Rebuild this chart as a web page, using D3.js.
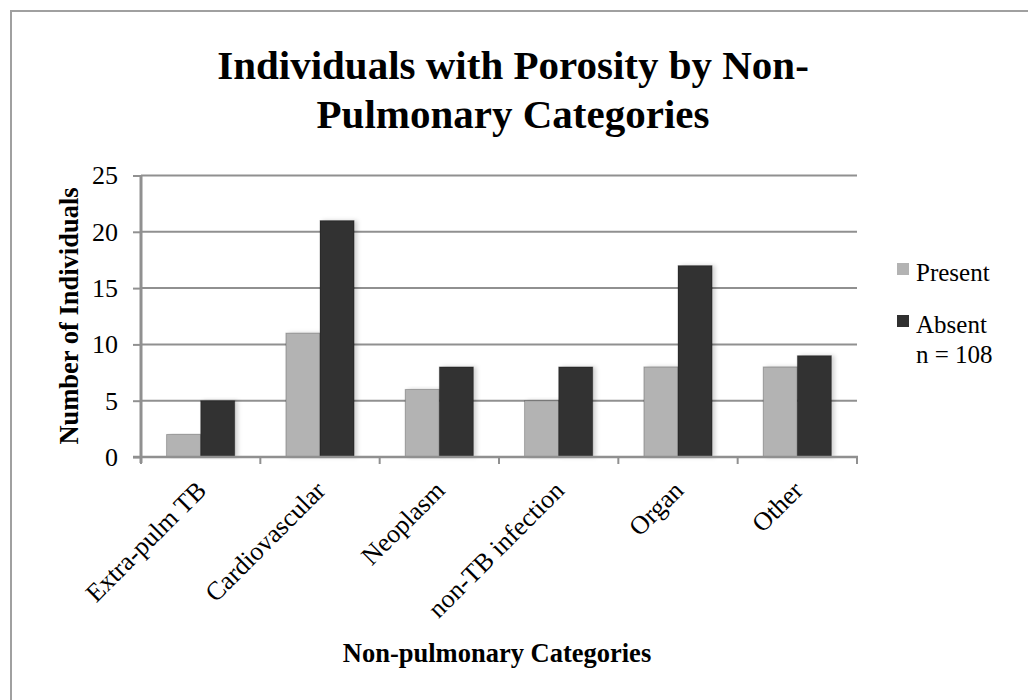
<!DOCTYPE html>
<html>
<head>
<meta charset="utf-8">
<script src="https://cdn.jsdelivr.net/npm/d3@7"></script>
<style>
  html, body { margin: 0; padding: 0; background: #fff; }
  svg { display: block; }
  text { font-family: "Liberation Serif", "Times New Roman", serif; fill: #000; }
</style>
</head>
<body>
<svg id="chart" width="1028" height="700"></svg>
<script>
// Category labels along the x axis
const categories = ["Extra-pulm TB", "Cardiovascular", "Neoplasm", "non-TB infection", "Organ", "Other"];
// Count of individuals per category
const present = [2, 11, 6, 5, 8, 8];
const absent = [5, 21, 8, 8, 17, 9];
const seriesNames = ["Present", "Absent"];
const seriesColors = ["#b3b3b3", "#303030"];
const yTicks = [0, 5, 10, 15, 20, 25];
const titleLines = ["Individuals with Porosity by Non-", "Pulmonary Categories"];
const note = "n = 108";

const svg = d3.select("#chart");

// Frame around the chart
svg.append("path")
  .attr("d", "M11,720 L11,11 L1040,11")
  .attr("fill", "none")
  .attr("stroke", "#a0a0a0")
  .attr("stroke-width", 2);

const plot = { left: 141, right: 857, top: 175.5, bottom: 457 };

const x = d3.scaleBand().domain(categories).range([plot.left, plot.right]).paddingInner(0).paddingOuter(0);
const y = d3.scaleLinear().domain([0, 25]).range([plot.bottom, plot.top]);
// Each bar is 1/3.5 of the band (150% gap width)
const barW = x.bandwidth() / 3.5;
const xs = d3.scaleBand().domain(seriesNames).range([0, barW * 2]);

const defs = svg.append("defs");
const f = defs.append("filter").attr("id", "shadow").attr("x", "-20%").attr("y", "-5%").attr("width", "160%").attr("height", "110%");
f.append("feDropShadow").attr("dx", 3).attr("dy", 0).attr("stdDeviation", 2)
  .attr("flood-color", "#000").attr("flood-opacity", 0.18);

// Gridlines
svg.append("g")
  .selectAll("line")
  .data(yTicks.filter(d => d > 0))
  .join("line")
  .attr("x1", plot.left).attr("x2", plot.right)
  .attr("y1", d => y(d)).attr("y2", d => y(d))
  .attr("stroke", "#909090").attr("stroke-width", 2);

// Bars
const rows = categories.map((c, i) => ({ cat: c, values: [present[i], absent[i]] }));
const groups = svg.append("g").selectAll("g")
  .data(rows)
  .join("g")
  .attr("transform", d => `translate(${x(d.cat) + (x.bandwidth() - barW * 2) / 2},0)`);
groups.selectAll("rect")
  .data(d => d.values.map((v, j) => ({ v, s: seriesNames[j], c: seriesColors[j] })))
  .join("rect")
  .attr("x", d => xs(d.s))
  .attr("y", d => y(d.v))
  .attr("width", xs.bandwidth())
  .attr("height", d => y(0) - y(d.v))
  .attr("fill", d => d.c)
  .attr("stroke", "rgba(0,0,0,0.25)")
  .attr("stroke-width", 1)
  .attr("filter", "url(#shadow)");

// Y axis
const yAxis = d3.axisLeft(y).tickValues(yTicks).tickSize(8).tickPadding(15);
const gy = svg.append("g").attr("transform", `translate(${plot.left},0)`).call(yAxis);
gy.select(".domain").attr("stroke", "#909090").attr("stroke-width", 3).attr("d", `M0,${plot.top}V${plot.bottom + 6}`);
gy.selectAll(".tick line").attr("stroke", "#909090").attr("stroke-width", 2);
gy.selectAll(".tick text").attr("font-size", 26).attr("font-family", "Liberation Serif").attr("fill", "#000");

// X axis: baseline and ticks at category boundaries
svg.append("line")
  .attr("x1", plot.left - 8).attr("x2", plot.right + 1)
  .attr("y1", plot.bottom).attr("y2", plot.bottom)
  .attr("stroke", "#909090").attr("stroke-width", 2.5);
const bounds = categories.map(c => x(c)).concat([plot.right]);
svg.append("g").selectAll("line")
  .data(bounds)
  .join("line")
  .attr("x1", d => d).attr("x2", d => d)
  .attr("y1", plot.bottom).attr("y2", plot.bottom + 7)
  .attr("stroke", "#909090").attr("stroke-width", 2);

// Rotated category labels
svg.append("g").selectAll("text")
  .data(categories)
  .join("text")
  .attr("transform", d => `translate(${x(d) + x.bandwidth() / 2 + 7},${plot.bottom + 35}) rotate(-45)`)
  .attr("text-anchor", "end")
  .attr("font-size", 26)
  .text(d => d);

// Title
svg.append("text")
  .attr("x", 513).attr("y", 79)
  .attr("text-anchor", "middle")
  .attr("font-size", 41).attr("font-weight", "bold")
  .selectAll("tspan")
  .data(titleLines)
  .join("tspan")
  .attr("x", 513)
  .attr("dy", (d, i) => i === 0 ? 0 : 49)
  .text(d => d);

// Axis titles
svg.append("text")
  .attr("transform", `translate(78,316) rotate(-90)`)
  .attr("text-anchor", "middle")
  .attr("font-size", 26.5).attr("font-weight", "bold")
  .text("Number of Individuals");

svg.append("text")
  .attr("x", 497).attr("y", 662)
  .attr("text-anchor", "middle")
  .attr("font-size", 26.5).attr("font-weight", "bold")
  .text("Non-pulmonary Categories");

// Legend
const legend = svg.append("g");
const ly = [263, 315];
seriesNames.forEach((s, i) => {
  legend.append("rect")
    .attr("x", 897).attr("y", ly[i]).attr("width", 12).attr("height", 12)
    .attr("fill", seriesColors[i]);
  legend.append("text")
    .attr("x", 916).attr("y", ly[i] + 18)
    .attr("font-size", 25)
    .text(s);
});
legend.append("text")
  .attr("x", 916).attr("y", 363)
  .attr("font-size", 25)
  .text(note);
</script>
</body>
</html>
